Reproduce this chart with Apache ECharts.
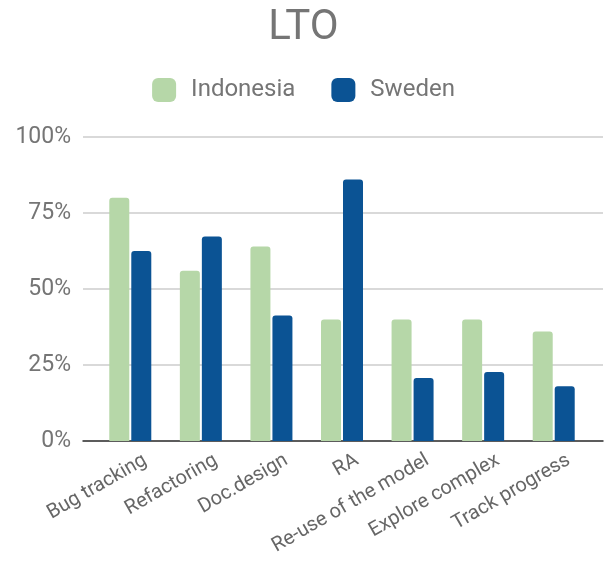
<!DOCTYPE html>
<html><head><meta charset="utf-8">
<script src="https://cdn.jsdelivr.net/npm/echarts@6/dist/echarts.min.js"></script>
<style>html,body{margin:0;padding:0;background:#fff}#c{width:607px;height:563px}</style>
</head><body><div id="c"></div>
<script>
var categories = ["Bug tracking", "Refactoring", "Doc.design", "RA", "Re-use of the model", "Explore complex", "Track progress"];
var indonesia = [0.80, 0.56, 0.64, 0.40, 0.40, 0.40, 0.36];
var sweden = [0.625, 0.673, 0.413, 0.86, 0.207, 0.227, 0.18];
var yTicks = [0, 0.25, 0.5, 0.75, 1];

var chart = echarts.init(document.getElementById('c'), null, {renderer: 'canvas'});
var font = 'Roboto, "Noto Sans", sans-serif';
chart.setOption({
  animation: false,
  title: {text: 'LTO', left: 'center', top: 2, textStyle: {fontFamily: font, fontSize: 42, fontWeight: 'normal', color: '#757575'}},
  legend: {top: 73, left: 'center', itemWidth: 24, itemHeight: 24, itemGap: 36, icon: 'roundRect',
    textStyle: {fontFamily: font, fontSize: 24, color: '#757575', padding: [0, 0, 0, 10]},
    data: ['Indonesia', 'Sweden']},
  grid: [
    {left: 83, right: 4, top: 137, bottom: 122},
    {left: 95, right: 18, top: 137, bottom: 122},
    {left: 110, right: 3, top: 137, bottom: 122}
  ],
  xAxis: [
    {gridIndex: 0, type: 'value', min: 0, max: 1, axisLabel: {show: false}, axisTick: {show: false}, splitLine: {show: false},
     axisLine: {show: true, lineStyle: {color: '#333', width: 1.5}}},
    {gridIndex: 1, type: 'category', data: categories, axisLine: {show: false}, axisTick: {show: false},
     axisLabel: {show: false}},
    {gridIndex: 2, type: 'category', data: categories, axisLine: {show: false}, axisTick: {show: false},
     axisLabel: {rotate: 30, interval: 0, margin: 18, fontFamily: font, fontSize: 20, color: '#666'}}
  ],
  yAxis: [
    {gridIndex: 0, type: 'value', min: yTicks[0], max: yTicks[yTicks.length - 1], interval: 0.25,
     axisLine: {show: false}, axisTick: {show: false},
     axisLabel: {margin: 12, fontFamily: font, fontSize: 23, color: '#757575',
       formatter: function (v) { return Math.round(v * 100) + '%'; }},
     splitLine: {lineStyle: {color: '#cccccc', width: 1.5}}},
    {gridIndex: 1, type: 'value', min: 0, max: 1, interval: 0.25, show: false, splitLine: {show: false}},
    {gridIndex: 2, type: 'value', min: 0, max: 1, interval: 0.25, show: false, splitLine: {show: false}}
  ],
  series: [
    {name: 'Indonesia', type: 'bar', xAxisIndex: 1, yAxisIndex: 1, data: indonesia, barWidth: 20, barGap: '10%',
     itemStyle: {color: '#b6d7a8', borderRadius: [3, 3, 0, 0]}},
    {name: 'Sweden', type: 'bar', xAxisIndex: 1, yAxisIndex: 1, data: sweden, barWidth: 20, barGap: '10%',
     itemStyle: {color: '#0b5394', borderRadius: [3, 3, 0, 0]}}
  ]
});
</script>
</body></html>
